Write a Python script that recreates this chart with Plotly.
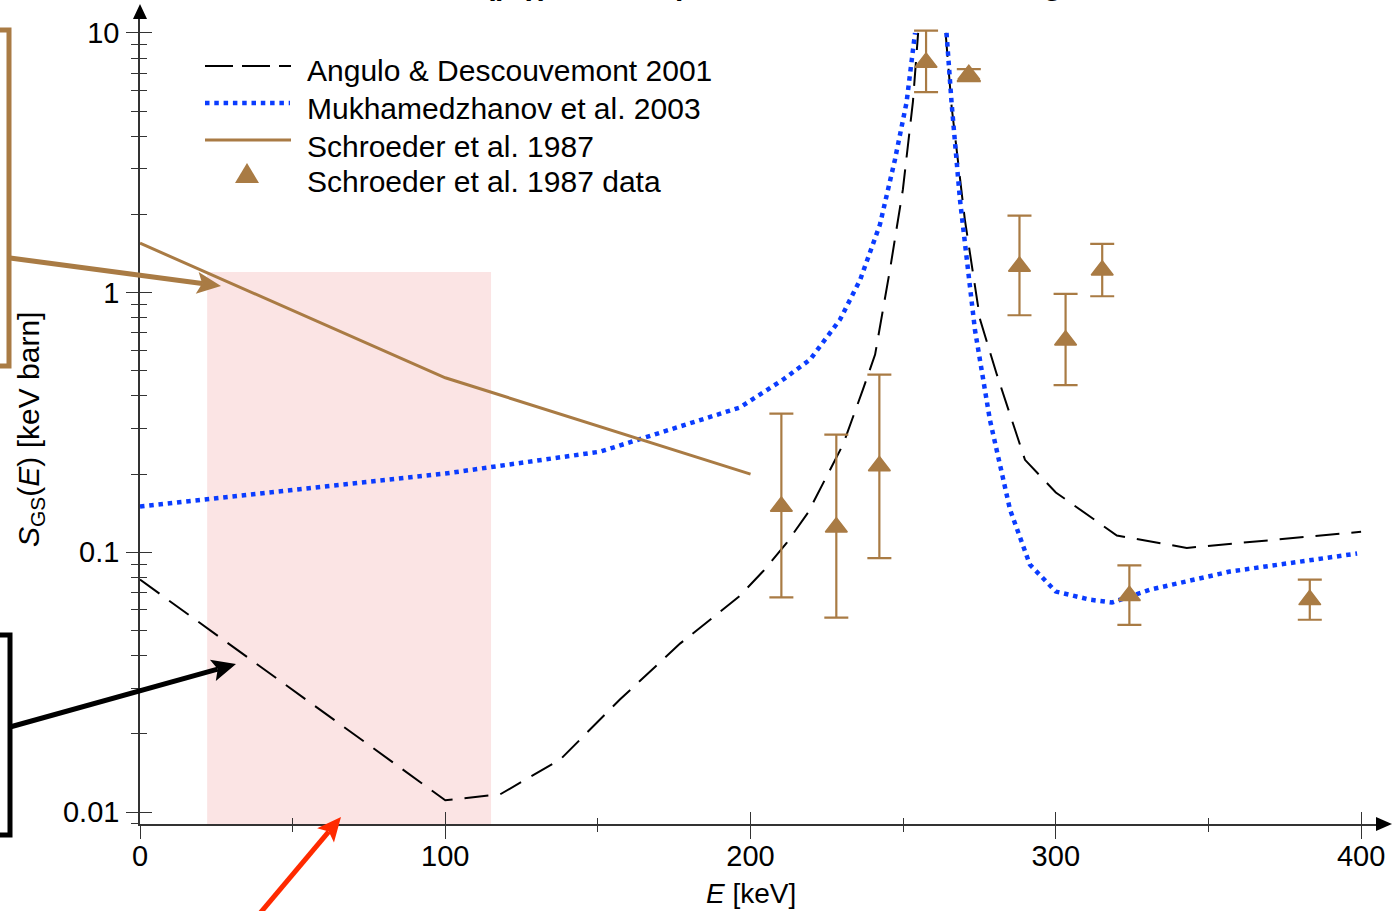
import math
import plotly.graph_objects as go

# ---------------- data ----------------
# Angulo & Descouvemont 2001 (black dashed); None = curve leaves the frame above 10
angulo_E = [0, 100, 118, 137.6, 157.2, 176.9, 188, 196.5, 204.1, 211.9, 218.8, 224.4, 230.3,
            236.8, 240.8, 245.7, 249.9, 253.2, 254.9, None, 263.9, 265.9, 270.2, 275.2,
            280.7, 289.9, 300, 311.2, 320, 342.9, 400]
angulo_S = [0.0785, 0.0111, 0.0117, 0.0159, 0.0271, 0.0445, 0.0565, 0.068, 0.0845, 0.109,
            0.142, 0.191, 0.26, 0.423, 0.577, 1.23, 2.49, 5.44, 10, None, 10, 5.16, 1.91,
            0.787, 0.483, 0.227, 0.170, 0.137, 0.116, 0.104, 0.120]

# Mukhamedzhanov et al. 2003 (blue dotted)
mukh_E = [0, 100, 150.7, 183.4, 196.5, 210.6, 219.5, 229.3, 235.9, 242.4, 247.3, 251.1,
          253.9, None, 264.2, 265.9, 268.6, 273.5, 278.4, 285, 291.5, 300, 311.2, 318.4,
          330.9, 357, 398.7]
mukh_S = [0.150, 0.201, 0.244, 0.324, 0.361, 0.462, 0.552, 0.787, 1.12, 1.83, 3.25, 5.39,
          10, None, 10, 5.3, 2.28, 0.72, 0.324, 0.146, 0.0897, 0.0706, 0.0657, 0.0641,
          0.0718, 0.0843, 0.0989]

# Schroeder et al. 1987 (brown solid)
schroeder_E = [0, 100, 200]
schroeder_S = [1.55, 0.47, 0.20]

# Schroeder et al. 1987 data (triangles with error bars)
data_E = [210.1, 228.1, 242.2, 257.5, 271.5, 288.1, 303.2, 315.2, 324.1, 383.2]
data_S = [0.150, 0.125, 0.215, 7.7, 6.9, 1.26, 0.655, 1.22, 0.068, 0.0656]
data_S_hi = [0.342, 0.284, 0.483, 10.2, 7.25, 1.98, 0.988, 1.54, 0.0891, 0.0785]
data_S_lo = [0.067, 0.056, 0.095, 5.91, 6.52, 0.818, 0.44, 0.968, 0.0525, 0.055]

# shaded energy window
shade_E = [22, 115]
shade_top = 1.2

x_ticks = [0, 100, 200, 300, 400]
x_minor = [50, 150, 250, 350]
y_ticks = [0.01, 0.1, 1, 10]
y_ticktext = ["0.01", "0.1", "1", "10"]
y_minor = [0.009] + [m * d for d in (0.01, 0.1, 1) for m in range(2, 10)]

legend_names = ["Angulo & Descouvemont 2001", "Mukhamedzhanov et al. 2003",
                "Schroeder et al. 1987", "Schroeder et al. 1987 data"]

# ---------------- styling / geometry ----------------
W, H = 1392, 911
ML, MR, MT, MB = 140, 7, 10, 87
PW, PH = W - ML - MR, H - MT - MB
PX_PER_KEV = 3.0527
PX_PER_DEC = 259.7
x_range = [0, PW / PX_PER_KEV]
y_lo = -2 - 12 / PX_PER_DEC
y_range = [y_lo, y_lo + PH / PX_PER_DEC]

BROWN = "#A97B44"
BLUE = "#0A3CFF"
PINK = "#FBE4E4"
RED = "#FF2A00"
AX = "#333333"
FONT = "Liberation Sans, Arial, Helvetica, sans-serif"


def px(x):
    return (x - ML) / PW


def py(y):
    return (MT + PH - y) / PH


fig = go.Figure()

fig.add_trace(go.Scatter(
    x=[shade_E[0], shade_E[1], shade_E[1], shade_E[0], shade_E[0]],
    y=[10 ** y_range[0], 10 ** y_range[0], shade_top, shade_top, 10 ** y_range[0]],
    fill="toself", fillcolor=PINK, mode="lines", line=dict(width=0),
    hoverinfo="skip", showlegend=False))

fig.add_trace(go.Scatter(x=angulo_E, y=angulo_S, mode="lines", name=legend_names[0],
                         line=dict(color="black", width=2, dash="24px,12px"),
                         connectgaps=False, showlegend=False))
fig.add_trace(go.Scatter(x=mukh_E, y=mukh_S, mode="lines", name=legend_names[1],
                         line=dict(color=BLUE, width=4.5, dash="4.5px,4.8px"),
                         connectgaps=False, showlegend=False))
fig.add_trace(go.Scatter(x=schroeder_E, y=schroeder_S, mode="lines", name=legend_names[2],
                         line=dict(color=BROWN, width=3), showlegend=False))
fig.add_trace(go.Scatter(
    x=data_E, y=data_S, mode="markers", name=legend_names[3], showlegend=False,
    marker=dict(symbol="triangle-up", size=19, color=BROWN, line=dict(width=1.5, color=BROWN)),
    error_y=dict(type="data", symmetric=False,
                 array=[h - s for h, s in zip(data_S_hi, data_S)],
                 arrayminus=[s - l for s, l in zip(data_S, data_S_lo)],
                 color=BROWN, thickness=2.2, width=12)))

# dummy trace for the overlay axes that carry the inward half of the ticks
fig.add_trace(go.Scatter(x=[200], y=[1], mode="markers", marker=dict(opacity=0),
                         xaxis="x2", yaxis="y2", hoverinfo="skip", showlegend=False))

tickfont = dict(family=FONT, size=29, color="black")
fig.update_layout(
    width=W, height=H, margin=dict(l=ML, r=MR, t=MT, b=MB),
    paper_bgcolor="white", plot_bgcolor="white", showlegend=False,
    font=dict(family=FONT, color="black"),
    xaxis=dict(range=x_range, tickmode="array", tickvals=x_ticks, ticks="outside",
               ticklen=13, tickwidth=1.3, tickcolor=AX, showline=True, linecolor=AX,
               linewidth=1.5, showgrid=False, zeroline=False, tickfont=tickfont,
               ticklabelstandoff=-8,
               minor=dict(tickmode="array", tickvals=x_minor, ticks="outside", ticklen=6,
                          tickwidth=1.3, tickcolor=AX, showgrid=False)),
    yaxis=dict(type="log", range=y_range, tickmode="array", tickvals=y_ticks,
               ticktext=y_ticktext, ticks="outside", ticklen=12, tickwidth=1.3,
               tickcolor=AX, showline=True, linecolor=AX, linewidth=1.5, showgrid=False,
               zeroline=False, tickfont=tickfont, ticklabelstandoff=1,
               minor=dict(tickmode="array", tickvals=y_minor, ticks="outside", ticklen=7,
                          tickwidth=1.3, tickcolor=AX, showgrid=False)),
    xaxis2=dict(overlaying="x", anchor="y2", range=x_range, tickmode="array",
                tickvals=x_ticks, ticks="inside", ticklen=12, tickwidth=1.3, tickcolor=AX,
                showticklabels=False, showline=False, showgrid=False, zeroline=False,
                minor=dict(tickmode="array", tickvals=x_minor, ticks="inside", ticklen=6,
                           tickwidth=1.3, tickcolor=AX, showgrid=False)),
    yaxis2=dict(overlaying="y", anchor="x2", type="log", range=y_range, side="left",
                tickmode="array", tickvals=y_ticks, ticks="inside", ticklen=12,
                tickwidth=1.3, tickcolor=AX, showticklabels=False, showline=False,
                showgrid=False, zeroline=False,
                minor=dict(tickmode="array", tickvals=y_minor, ticks="inside", ticklen=7,
                           tickwidth=1.3, tickcolor=AX, showgrid=False)),
)

shapes = []
annotations = []

# axis arrow heads
shapes.append(dict(type="path", xref="paper", yref="paper",
                   path=f"M{px(1376)},{py(817)} L{px(1392)},{py(824)} L{px(1376)},{py(831)} Z",
                   fillcolor="black", line=dict(width=0)))
shapes.append(dict(type="path", xref="paper", yref="paper",
                   path=f"M{px(133)},{py(19)} L{px(140)},{py(4)} L{px(147)},{py(19)} Z",
                   fillcolor="black", line=dict(width=0)))

# custom legend
leg_rows = [66, 103, 140, 177]
leg_text_y = [71, 108, 146, 182]
shapes.append(dict(type="line", xref="paper", yref="paper", x0=px(205), x1=px(291),
                   y0=py(leg_rows[0]), y1=py(leg_rows[0]),
                   line=dict(color="black", width=2, dash="28px,9px")))
shapes.append(dict(type="line", xref="paper", yref="paper", x0=px(205), x1=px(290),
                   y0=py(leg_rows[1]), y1=py(leg_rows[1]),
                   line=dict(color=BLUE, width=4.5, dash="4.5px,4.8px")))
shapes.append(dict(type="line", xref="paper", yref="paper", x0=px(205), x1=px(291),
                   y0=py(leg_rows[2]), y1=py(leg_rows[2]),
                   line=dict(color=BROWN, width=3)))
shapes.append(dict(type="path", xref="paper", yref="paper",
                   path=f"M{px(235)},{py(183)} L{px(259)},{py(183)} L{px(247)},{py(163)} Z",
                   fillcolor=BROWN, line=dict(width=0)))
for name, yy in zip(legend_names, leg_text_y):
    annotations.append(dict(text=name, xref="paper", yref="paper", x=px(305), y=py(yy),
                            xanchor="left", yanchor="middle", showarrow=False,
                            font=dict(family=FONT, size=30, color="black")))

# axis titles
annotations.append(dict(text="<i>E</i> [keV]", xref="paper", yref="paper", x=px(751),
                        y=py(893), xanchor="center", yanchor="middle", showarrow=False,
                        font=dict(family=FONT, size=28, color="black")))
annotations.append(dict(text="<i>S</i><sub>GS</sub>(<i>E</i>) [keV barn]", xref="paper",
                        yref="paper", x=px(31), y=py(430), xanchor="center",
                        yanchor="middle", textangle=-90, showarrow=False,
                        font=dict(family=FONT, size=30, color="black")))

# title (cropped at top of the picture)
annotations.append(dict(text="<b><sup>14</sup>N(p,γ)<sup>15</sup>O: comparison of models for the ground state</b>",
                        xref="paper", yref="paper", x=px(438), y=py(-1), xanchor="left",
                        yanchor="bottom", yshift=-4, showarrow=False,
                        font=dict(family=FONT, size=30, color="black")))

# callout brackets at the left edge
shapes.append(dict(type="rect", xref="paper", yref="paper", x0=px(-30), x1=px(9),
                   y0=py(30), y1=py(366), line=dict(color=BROWN, width=5)))
shapes.append(dict(type="rect", xref="paper", yref="paper", x0=px(-30), x1=px(10),
                   y0=py(635), y1=py(835), line=dict(color="black", width=5)))


# callout arrows (line + filled head), pixel geometry converted to paper coords
def arrow(tx, ty, sx, sy, col, lw=5, head_len=24, head_w=22):
    d = math.hypot(tx - sx, ty - sy)
    ux, uy = (tx - sx) / d, (ty - sy) / d
    nx, ny = -uy, ux
    bx, by = tx - ux * head_len, ty - uy * head_len
    nbx, nby = tx - ux * (head_len - 5), ty - uy * (head_len - 5)
    shapes.append(dict(type="line", xref="paper", yref="paper", x0=px(sx), y0=py(sy),
                       x1=px(nbx), y1=py(nby), line=dict(color=col, width=lw)))
    p1 = (bx + nx * head_w / 2, by + ny * head_w / 2)
    p2 = (bx - nx * head_w / 2, by - ny * head_w / 2)
    notch = (tx - ux * (head_len - 5), ty - uy * (head_len - 5))
    shapes.append(dict(type="path", xref="paper", yref="paper",
                       path=(f"M{px(tx)},{py(ty)} L{px(p1[0])},{py(p1[1])} "
                             f"L{px(notch[0])},{py(notch[1])} L{px(p2[0])},{py(p2[1])} Z"),
                       fillcolor=col, line=dict(width=0)))


arrow(221, 286, 10, 258, BROWN)
arrow(236, 664, 10, 727, "black")
arrow(341, 817, 256, 918, RED)

fig.update_layout(shapes=shapes, annotations=annotations)
fig.write_html("out.html")
